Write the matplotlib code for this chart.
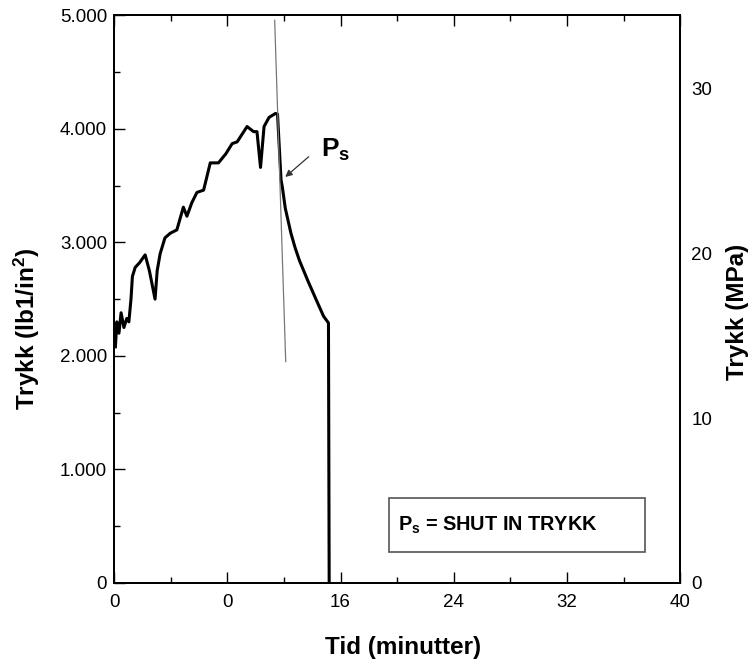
import matplotlib.pyplot as plt
from matplotlib.patches import Rectangle

plt.rcParams['font.family'] = ['Liberation Sans', 'DejaVu Sans']
plt.rcParams['mathtext.fontset'] = 'custom'
plt.rcParams['mathtext.rm'] = 'Liberation Sans'
plt.rcParams['mathtext.bf'] = 'Liberation Sans:bold'

# Trykk-kurve (tid i minutter, trykk i psi)
tid = [0.1, 0.2, 0.35, 0.5, 0.7, 0.9, 1.05, 1.2, 1.3, 1.5, 1.8, 2.2, 2.5,
       2.9, 3.05, 3.26, 3.6, 3.97, 4.44, 4.9, 5.15, 5.5, 5.86, 6.33, 6.8,
       7.38, 7.9, 8.35, 8.7, 9.4, 9.86, 10.1, 10.35, 10.6, 10.95, 11.4,
       11.55, 11.8, 11.9, 12.1, 12.5, 12.8, 13.1, 13.7, 14.3, 14.8, 15.15,
       15.2]
trykk = [2080, 2300, 2200, 2380, 2250, 2330, 2300, 2500, 2700, 2780, 2820,
         2890, 2750, 2500, 2750, 2900, 3040, 3080, 3110, 3310, 3230, 3350,
         3440, 3460, 3700, 3700, 3780, 3870, 3885, 4020, 3975, 3975, 3660,
         4020, 4100, 4135, 4130, 3550, 3480, 3300, 3080, 2950, 2840, 2660,
         2490, 2350, 2290, 0]

# tangentlinje
tangent_x = [11.35, 12.13]
tangent_y = [4956, 1950]

# Ps-punkt, pilhale og tekstplassering
ps_point = (11.95, 3560)
ps_tail = (13.9, 3770)
ps_text = (14.6, 3820)

xticks = [0, 8, 16, 24, 32, 40]
xticklabels = ['0', '0', '16', '24', '32', '40']
yticks = [0, 1000, 2000, 3000, 4000, 5000]
yticklabels = ['0', '1.000', '2.000', '3.000', '4.000', '5.000']
mpa_ticks = [0, 10, 20, 30]
psi_per_mpa = 145.038

fig = plt.figure(figsize=(7.5, 6.64), dpi=100)
ax = fig.add_axes([0.152, 0.122, 0.755, 0.855])

ax.plot(tid, trykk, color='black', lw=2.2, solid_joinstyle='round')
ax.plot(tangent_x, tangent_y, color='#777777', lw=0.9)

ax.annotate('', xy=ps_point, xytext=ps_tail,
            arrowprops=dict(arrowstyle='-|>', color='#333333', lw=0.9,
                            mutation_scale=10))
ax.text(ps_text[0], ps_text[1], r'$\mathbf{P}_\mathbf{s}$', fontsize=19,
        va='center', ha='left')

# forklaringsboks
ax.add_patch(Rectangle((0.486, 0.0546), 0.452, 0.095, transform=ax.transAxes,
                       fc='white', ec='#555555', lw=1.2))
ax.text(0.502, 0.102, r'$\mathbf{P}_\mathbf{s}$ = SHUT IN TRYKK',
        transform=ax.transAxes, fontsize=14.3, fontweight='bold',
        va='center', ha='left')

ax.set_xlim(0, 40)
ax.set_ylim(0, 5000)
ax.set_xticks(xticks)
ax.set_xticklabels(xticklabels)
ax.set_xticks([4, 12, 20, 28, 36], minor=True)
ax.set_yticks(yticks)
ax.set_yticklabels(yticklabels)
ax.set_yticks([500, 1500, 2500, 3500, 4500], minor=True)
ax.tick_params(which='both', direction='in', top=True, right=False,
               labelsize=13.5, width=1.0)
ax.tick_params(which='major', length=8)
ax.tick_params(which='minor', length=4)
ax.tick_params(axis='x', pad=8)
ax.tick_params(axis='y', pad=5)
for s in ax.spines.values():
    s.set_linewidth(1.4)

ax2 = ax.twinx()
ax2.set_ylim(0, 5000 / psi_per_mpa)
ax2.set_yticks(mpa_ticks)
ax2.tick_params(axis='y', length=0, pad=8, labelsize=13.5)
for s in ax2.spines.values():
    s.set_linewidth(1.4)

# aksetitler
fig.text(0.537, 0.025, 'Tid (minutter)', fontsize=17.5, fontweight='bold',
         ha='center', va='center')
fig.text(0.036, 0.505, r'Trykk (lb1/in$\mathbf{^2}$)', fontsize=17.5,
         fontweight='bold', ha='center', va='center', rotation=90)
fig.text(0.983, 0.53, 'Trykk (MPa)', fontsize=17.5, fontweight='bold',
         ha='center', va='center', rotation=90)

fig.savefig('out.png', dpi=100)
